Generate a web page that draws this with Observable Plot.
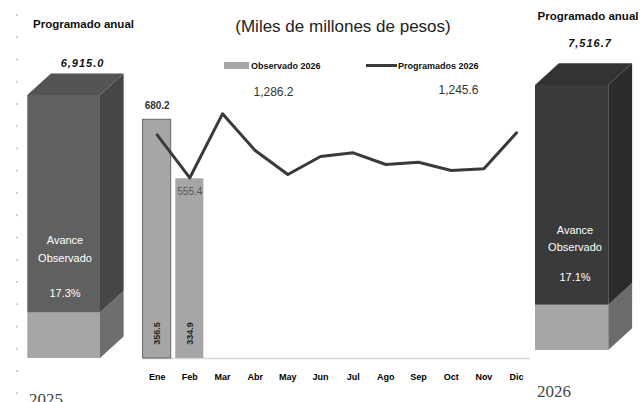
<!DOCTYPE html>
<html><head><meta charset="utf-8">
<script src="https://cdn.jsdelivr.net/npm/d3@7"></script>
<script src="https://cdn.jsdelivr.net/npm/@observablehq/plot@0.6"></script>
<style>
html,body{margin:0;padding:0;background:#fff;}
#root{position:relative;width:642px;height:402px;overflow:hidden;font-family:"Liberation Sans",Arial,sans-serif;background:#fff;}
.t{position:absolute;white-space:nowrap;line-height:1;}
.c{transform:translate(-50%,-50%);}
.l{transform:translate(0,-50%);}
.dots{position:absolute;left:16px;top:14px;width:2px;height:382px;background-image:linear-gradient(#cfcfcf 0 2px,transparent 2px);background-size:2px 22.25px;}
</style></head><body><div id="root"><div class="dots"></div></div>
<script>
// ---- data ----
const meses = ["Ene","Feb","Mar","Abr","May","Jun","Jul","Ago","Sep","Oct","Nov","Dic"];
const observado2026 = [680.2, 555.4];
const etiquetasInteriores = ["356.5", "334.9"];
const programado2026 = [648.4, 557.5, 692.8, 615.2, 564.5, 602.5, 610.4, 585.6, 590.5, 572.9, 576.5, 652.7];
const anual2025 = "6,915.0";
const avance2025 = 17.3;
const anual2026 = "7,516.7";
const avance2026 = 17.1;
const totalObservado = "1,286.2";
const totalProgramado = "1,245.6";
const ejeY = [175.3, 847.9];

const root = document.getElementById("root");
function place(el) { el.style.position = "absolute"; el.style.left = "0px"; el.style.top = "0px"; root.appendChild(el); }
function txt(s, x, y, css, cls) {
  const d = document.createElement("div");
  d.className = "t " + (cls || "c");
  d.textContent = s;
  d.style.left = x + "px"; d.style.top = y + "px";
  Object.assign(d.style, css || {});
  root.appendChild(d);
}

// ---- main chart ----
const barras = observado2026.map((v, i) => ({mes: meses[i], valor: v, interior: etiquetasInteriores[i]}));
const linea = programado2026.map((v, i) => ({mes: meses[i], valor: v}));
const fmt = d3.format(",.1f");

const main = Plot.plot({
  width: 642, height: 402,
  marginLeft: 142.6, marginRight: 111.9, marginTop: 40, marginBottom: 44,
  x: {type: "band", domain: meses, paddingInner: 0.14, paddingOuter: 0, round: false, label: null},
  y: {domain: ejeY, axis: null},
  style: {background: "transparent", overflow: "visible", fontFamily: "Liberation Sans, Arial, sans-serif"},
  marks: [
    Plot.ruleY([ejeY[0]], {stroke: "#d9d9d9", strokeWidth: 1.5}),
    Plot.barY(barras, {x: "mes", y1: ejeY[0], y2: "valor", fill: "#a6a6a6"}),
    Plot.barY(barras.filter(d => d.mes === "Ene"), {x: "mes", y1: ejeY[0], y2: "valor", fill: "none", stroke: "#666", strokeWidth: 1}),
    Plot.text(barras.filter(d => d.mes === "Ene"), {x: "mes", y: "valor", text: d => fmt(d.valor), dy: -14, fontSize: 10, fontWeight: "bold", fill: "#333"}),
    Plot.text(barras.filter(d => d.mes === "Feb"), {x: "mes", y: "valor", text: d => fmt(d.valor), dy: 13, fontSize: 10, fill: "#555"}),
    Plot.text(barras, {x: "mes", y: ejeY[0], text: "interior", rotate: -90, dy: -25, fontSize: 9, fontWeight: "bold", fill: "#222"}),
    Plot.line(linea, {x: "mes", y: "valor", stroke: "#3a3a3a", strokeWidth: 3}),
    Plot.axisX({tickSize: 0, tickPadding: 15, fontSize: 9, fontWeight: "bold", fill: "#000"})
  ]
});
place(main);

// ---- 3D boxes ----
function caja(xr, yr, avance, col) {
  const dx = 0.325, dy = 8.2;
  return Plot.plot({
    width: 642, height: 402, margin: 0,
    x: {domain: [0, 1], range: xr, axis: null},
    y: {domain: [0, 100], range: yr, axis: null},
    style: {background: "transparent", overflow: "visible"},
    marks: [
      Plot.rect([{x1: 0, x2: 1, y1: 0, y2: avance}], {x1: "x1", x2: "x2", y1: "y1", y2: "y2", fill: col.frenteClaro}),
      Plot.rect([{x1: 0, x2: 1, y1: avance, y2: 100}], {x1: "x1", x2: "x2", y1: "y1", y2: "y2", fill: col.frente}),
      Plot.areaY([{x: 1, y1: 0, y2: avance}, {x: 1 + dx, y1: dy, y2: avance + dy}], {x: "x", y1: "y1", y2: "y2", fill: col.ladoClaro}),
      Plot.areaY([{x: 1, y1: avance, y2: 100}, {x: 1 + dx, y1: avance + dy, y2: 100 + dy}], {x: "x", y1: "y1", y2: "y2", fill: col.lado}),
      Plot.areaX([{y: 100, x1: 0, x2: 1}, {y: 100 + dy, x1: dx, x2: 1 + dx}], {y: "y", x1: "x1", x2: "x2", fill: col.arriba})
    ]
  });
}
place(caja([27.3, 100], [358, 95], avance2025, {frente: "#606060", lado: "#464646", arriba: "#545454", frenteClaro: "#a6a6a6", ladoClaro: "#6e6e6e"}));
place(caja([535, 608.3], [350, 85], avance2026, {frente: "#3a3a3a", lado: "#2b2b2b", arriba: "#333333", frenteClaro: "#a6a6a6", ladoClaro: "#6b6b6b"}));

// ---- texts ----
txt("(Miles de millones de pesos)", 343, 26, {fontSize: "17px", color: "#222"});
// legend
const sw = document.createElement("div");
Object.assign(sw.style, {position: "absolute", left: "224px", top: "62px", width: "25px", height: "7px", background: "#a6a6a6"});
root.appendChild(sw);
txt("Observado 2026", 251, 65.5, {fontSize: "9px", fontWeight: "bold", color: "#111"}, "l");
const ln = document.createElement("div");
Object.assign(ln.style, {position: "absolute", left: "366px", top: "63.5px", width: "31px", height: "3px", background: "#3a3a3a"});
root.appendChild(ln);
txt("Programados 2026", 398, 65.5, {fontSize: "9px", fontWeight: "bold", color: "#111"}, "l");
txt(totalObservado, 273.5, 91.5, {fontSize: "12px", color: "#333"});
txt(totalProgramado, 458.5, 89.5, {fontSize: "12px", color: "#333"});

// left box texts
txt("Programado anual", 83.5, 25, {fontSize: "11.5px", fontWeight: "bold", color: "#111"});
txt(anual2025, 82.5, 63, {fontSize: "11px", fontWeight: "bold", fontStyle: "italic", letterSpacing: "1px", color: "#111"});
txt("Avance", 65, 240, {fontSize: "11px", color: "#fff"});
txt("Observado", 65, 258, {fontSize: "11px", color: "#fff"});
txt(avance2025.toFixed(1) + "%", 65, 293, {fontSize: "11px", color: "#fff"});
txt("2025", 29, 399, {fontSize: "17px", color: "#444", fontFamily: "Liberation Serif, serif"}, "l");

// right box texts
txt("Programado anual", 588, 17, {fontSize: "11.5px", fontWeight: "bold", color: "#111"});
txt(anual2026, 590, 43, {fontSize: "11px", fontWeight: "bold", fontStyle: "italic", letterSpacing: "1px", color: "#111"});
txt("Avance", 575, 230, {fontSize: "11px", color: "#fff"});
txt("Observado", 575, 247, {fontSize: "11px", color: "#fff"});
txt(avance2026.toFixed(1) + "%", 575, 277, {fontSize: "11px", color: "#fff"});
txt("2026", 537, 391, {fontSize: "17px", color: "#444", fontFamily: "Liberation Serif, serif"}, "l");
</script></body></html>
